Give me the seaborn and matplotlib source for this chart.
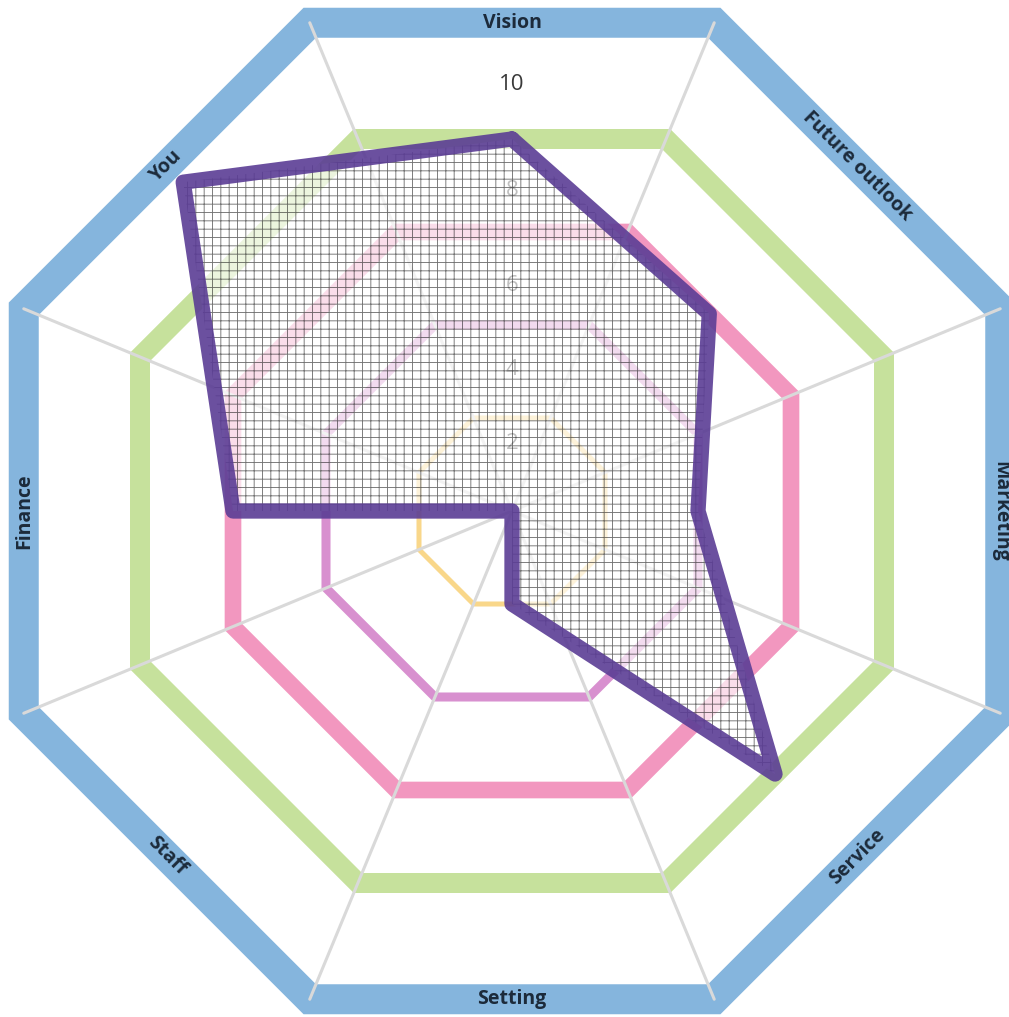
import numpy as np
import pandas as pd
import seaborn as sns
import matplotlib
matplotlib.use("Agg")
import matplotlib.pyplot as plt

categories = ["Vision", "Future outlook", "Marketing", "Service", "Setting", "Staff", "Finance", "You"]
scores = [8, 6, 4, 8, 2, 0, 6, 10]
levels = [2, 4, 6, 8]
tick_values = [2, 4, 6, 8, 10]

level_colors = ["#f9d78a", "#d890cf", "#f297bf", "#c6e19c"]
level_widths = [3.6, 6.5, 12.0, 14.4]
frame_level = 10.5
frame_color = "#85b5dd"
label_rotations = [0, -45, -90, 45, 0, -45, 90, 45]

sns.set_style("white")
plt.rcParams["font.family"] = ["Open Sans", "DejaVu Sans"]
plt.rcParams["hatch.linewidth"] = 0.65

W, H = 1009, 1017
cx, cy = 512, 511      # centre in pixels (from top-left)
scale = 46.5           # pixels per unit
rmax = 12
half = rmax * scale

fig = plt.figure(figsize=(W / 100, H / 100), dpi=100)
ax = fig.add_axes([(cx - half) / W, (H - cy - half) / H, 2 * half / W, 2 * half / H],
                  projection="polar")
ax.set_theta_zero_location("N")
ax.set_theta_direction(-1)

n = len(categories)
theta = np.arange(n) * 2 * np.pi / n
corner = theta + np.pi / n
stretch = 1 / np.cos(np.pi / n)

# octagon rings
for lvl, col, lw in zip(levels, level_colors, level_widths):
    ax.fill(corner, np.full(n, lvl * stretch), facecolor="none", edgecolor=col,
            linewidth=lw, joinstyle="miter", zorder=1)
ax.fill(corner, np.full(n, frame_level * stretch), facecolor="none", edgecolor=frame_color,
        linewidth=21.6, joinstyle="miter", zorder=1)

# spokes
for t in corner:
    ax.plot([t, t], [0, frame_level * stretch], color="#d9d9d9", lw=2.2, zorder=2)

# scale labels (sit a bit inside each ring)
for v in tick_values:
    ax.text(0, 0.02875 * v ** 2 + 0.62 * v + 0.1, str(v), ha="center", va="center",
            fontsize=16, color="#3a3a3a", zorder=3)

# data
df = pd.DataFrame({"theta": np.r_[theta, 2 * np.pi], "score": scores + scores[:1]})
ax.fill(df["theta"], df["score"], facecolor=(1, 1, 1, 0.68), edgecolor=(0, 0, 0, 0.55),
        linewidth=0, hatch="++", zorder=4)
sns.lineplot(data=df, x="theta", y="score", sort=False, color="#5b3d95", lw=11, alpha=0.9,
             solid_joinstyle="round", solid_capstyle="round", ax=ax, zorder=5)

# category labels on the frame
for t, name, rot in zip(theta, categories, label_rotations):
    ax.text(t, frame_level, name, rotation=rot, rotation_mode="anchor", ha="center",
            va="center", fontsize=14, fontweight="bold", color="#1c2a3a", zorder=6)

ax.set_ylim(0, rmax)
ax.set_xticks([])
ax.set_yticks([])
ax.grid(False)
ax.set_xlabel("")
ax.set_ylabel("")
ax.spines["polar"].set_visible(False)
ax.patch.set_visible(False)

fig.savefig("out.png", dpi=100)
